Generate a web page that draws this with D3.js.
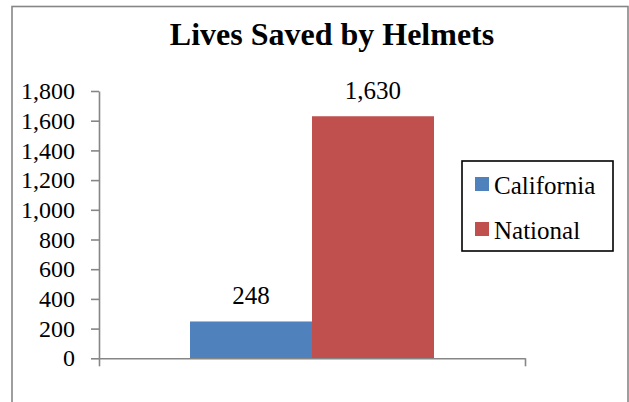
<!DOCTYPE html>
<html>
<head>
<meta charset="utf-8">
<script src="https://cdn.jsdelivr.net/npm/d3@7"></script>
<style>
  html, body { margin: 0; padding: 0; background: #fff; }
  svg { display: block; }
</style>
</head>
<body>
<svg id="chart" width="629" height="402"></svg>
<script>
const title = "Lives Saved by Helmets";
const categories = ["Lives Saved"];
const seriesNames = ["California", "National"];
const seriesValues = [248, 1630];
const seriesColors = ["#4F81BD", "#C0504D"];
const yTicks = [0, 200, 400, 600, 800, 1000, 1200, 1400, 1600, 1800];

const FONT = '"Liberation Serif"';
const svg = d3.select("#chart");
const W = 629, H = 402;
svg.append("rect").attr("width", W).attr("height", H).attr("fill", "#fff");

// outer chart border (bottom edge falls outside the picture)
svg.append("rect")
  .attr("x", 12).attr("y", 6.5).attr("width", 616).attr("height", 430)
  .attr("fill", "none").attr("stroke", "#868686").attr("stroke-width", 1.6);

svg.append("text")
  .attr("x", 332).attr("y", 45)
  .attr("text-anchor", "middle")
  .style("font-family", FONT).style("font-size", "32px").style("font-weight", "bold")
  .style("fill", "#000")
  .text(title);

const plot = { left: 99, right: 525, top: 91, bottom: 358.3 };

const y = d3.scaleLinear().domain([0, 1800]).range([plot.bottom, plot.top]);
const x0 = d3.scaleBand().domain(categories).range([plot.left, plot.right])
  .paddingInner(0).paddingOuter(0.373);
const x1 = d3.scaleBand().domain(seriesNames).range([0, x0.bandwidth()]).padding(0);

const fmt = d3.format(",");

// bars
const g = svg.append("g");
categories.forEach(cat => {
  seriesNames.forEach((s, i) => {
    const v = seriesValues[i];
    g.append("rect")
      .attr("x", x0(cat) + x1(s))
      .attr("y", y(v))
      .attr("width", x1.bandwidth())
      .attr("height", y(0) - y(v))
      .attr("fill", seriesColors[i]);
    g.append("text")
      .attr("x", x0(cat) + x1(s) + x1.bandwidth() / 2)
      .attr("y", y(v) - 17)
      .attr("text-anchor", "middle")
      .style("font-family", FONT).style("font-size", "25px").style("fill", "#000")
      .text(fmt(v));
  });
});

// y axis
const yAxis = svg.append("g")
  .attr("transform", `translate(${plot.left},0)`)
  .call(d3.axisLeft(y).tickValues(yTicks).tickFormat(fmt).tickSize(8).tickPadding(16).tickSizeOuter(0));
yAxis.selectAll("path, line").attr("stroke", "#868686").attr("stroke-width", 1.6);
yAxis.selectAll("text")
  .style("font-family", FONT).style("font-size", "24px").style("fill", "#000");

// x axis (category label hidden, end ticks)
const xAxis = svg.append("g")
  .attr("transform", `translate(0,${plot.bottom})`)
  .call(d3.axisBottom(d3.scaleLinear().domain([0, 1]).range([plot.left, plot.right]))
    .tickValues([0, 1]).tickSize(8).tickSizeOuter(0).tickFormat(""));
xAxis.selectAll("path, line").attr("stroke", "#868686").attr("stroke-width", 1.6);

// legend
const lg = svg.append("g");
lg.append("rect")
  .attr("x", 462).attr("y", 161).attr("width", 151).attr("height", 90)
  .attr("fill", "#fff").attr("stroke", "#000").attr("stroke-width", 1.6);
seriesNames.forEach((s, i) => {
  const yy = 177 + i * 45;
  lg.append("rect").attr("x", 475).attr("y", yy).attr("width", 14).attr("height", 14)
    .attr("fill", seriesColors[i]);
  lg.append("text").attr("x", 494).attr("y", yy + 16.5)
    .style("font-family", FONT).style("font-size", "25px").style("fill", "#000")
    .text(s);
});
</script>
</body>
</html>
